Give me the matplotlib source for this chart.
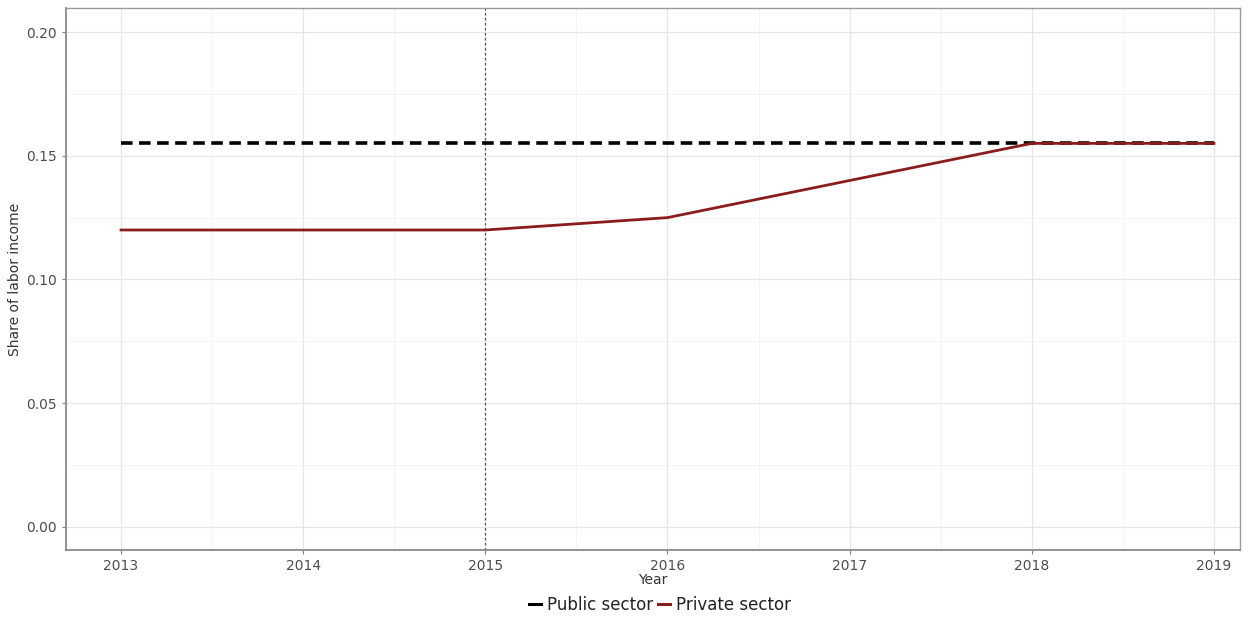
import matplotlib
matplotlib.use("Agg")
import matplotlib.pyplot as plt
from matplotlib.lines import Line2D

years = [2013, 2014, 2015, 2016, 2017, 2018, 2019]
public_sector = [0.155, 0.155, 0.155, 0.155, 0.155, 0.155, 0.155]
private_sector = [0.12, 0.12, 0.12, 0.125, 0.14, 0.155, 0.155]
y_ticks = [0.00, 0.05, 0.10, 0.15, 0.20]
y_tick_labels = ["0.00", "0.05", "0.10", "0.15", "0.20"]
reform_year = 2015

W, H = 1257, 622
fig = plt.figure(figsize=(W / 100, H / 100), dpi=100)
fig.patch.set_facecolor("white")
ax = fig.add_axes([66 / W, 1 - 550 / H, (1240 - 66) / W, (550 - 8) / H])

ax.set_xlim(2012.698, 2019.143)
ax.set_ylim(-0.0093, 0.2097)

# grid
for y in [0.025, 0.075, 0.125, 0.175]:
    ax.axhline(y, color="#f2f2f2", lw=0.6, zorder=0)
for y in y_ticks:
    ax.axhline(y, color="#e6e6e6", lw=0.9, zorder=0)
for x in [2013.5, 2014.5, 2015.5, 2016.5, 2017.5, 2018.5]:
    ax.axvline(x, color="#f2f2f2", lw=0.6, zorder=0)
for x in years:
    ax.axvline(x, color="#e6e6e6", lw=0.9, zorder=0)

ax.axvline(reform_year, color="#555555", lw=0.9, ls=(0, (2, 2)), zorder=1)

ax.plot(years, public_sector, color="black", lw=2.6, ls=(0, (3.2, 1.8)), zorder=2)
ax.plot(years, private_sector, color="#8b1c1c", lw=2.0, zorder=3)

ax.set_xticks(years)
ax.set_xticklabels([str(y) for y in years])
ax.set_yticks(y_ticks)
ax.set_yticklabels(y_tick_labels)
ax.tick_params(axis="both", colors="#7f7f7f", labelcolor="#4d4d4d", labelsize=10, length=3, width=0.8)

for side in ["top", "right"]:
    ax.spines[side].set_color("#9a9a9a")
    ax.spines[side].set_linewidth(1.0)
for side in ["left", "bottom"]:
    ax.spines[side].set_color("#8a8a8a")
    ax.spines[side].set_linewidth(1.3)

ax.set_xlabel("Year", fontsize=10, color="#333333", labelpad=0)
ax.set_ylabel("Share of labor income", fontsize=10, color="#333333", labelpad=3)

handles = [Line2D([], [], color="black", lw=2.2), Line2D([], [], color="#8b1c1c", lw=2.2)]
fig.legend(handles, ["Public sector", "Private sector"], loc="center", bbox_to_anchor=(660 / W, 1 - 605 / H),
           ncol=2, frameon=False, fontsize=12, handlelength=0.7, handletextpad=0.35, columnspacing=0.3,
           labelcolor="#222222")

fig.savefig("out.png", dpi=100, facecolor="white")
